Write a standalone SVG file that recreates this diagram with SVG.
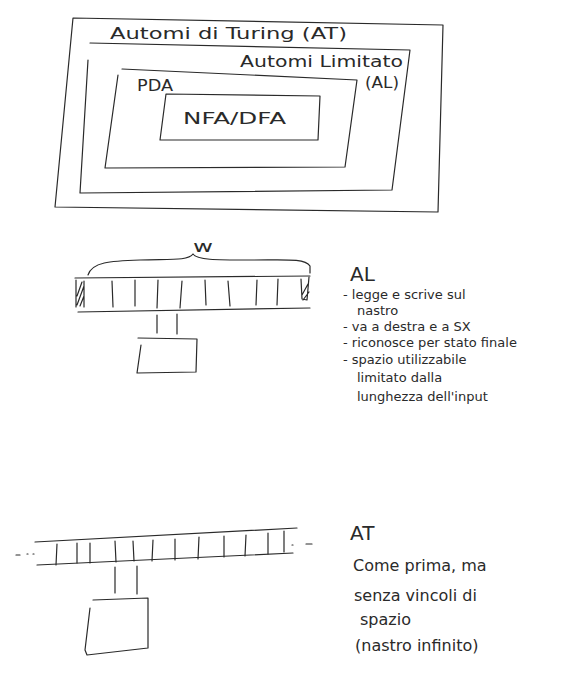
<svg xmlns="http://www.w3.org/2000/svg" width="588" height="697" viewBox="0 0 588 697">
<style>
.s{fill:none;stroke:#2a2a2a;stroke-width:1.2;stroke-linecap:round;stroke-linejoin:round}
.t{font-family:"DejaVu Sans","Liberation Sans",sans-serif;font-size:15px;fill:#2a2a2a}
.n{font-size:13px}
.m{font-size:16px}
.b{font-size:20px}
</style>
<rect width="588" height="697" fill="#ffffff"/>
<g id="at-box">
<path class="s" d="M73,18 L443,25 L438,212 L55,207 Z"/>
<text class="t" x="110" y="39" textLength="237" lengthAdjust="spacingAndGlyphs">Automi di Turing (AT)</text>
</g>
<g id="al-box">
<path class="s" d="M90,43 L410,50 L392,190 L80,193 L88,60"/>
<text class="t" x="240" y="67" textLength="163" lengthAdjust="spacingAndGlyphs">Automi Limitato</text>
<text class="t" x="365" y="88" textLength="34" lengthAdjust="spacingAndGlyphs">(AL)</text>
</g>
<g id="pda-box">
<path class="s" d="M122,69 L357,80 L345,167 L105,168 L118,75"/>
<text class="t" x="137" y="91" textLength="36" lengthAdjust="spacingAndGlyphs">PDA</text>
</g>
<g id="fa-box">
<path class="s" d="M166,94 L320,96 L318,140 L160,140 Z"/>
<text class="t" x="183" y="124" textLength="103" lengthAdjust="spacingAndGlyphs">NFA/DFA</text>
</g>
<g id="al-tape">
<path class="s" d="M75,278 L310,276"/>
<path class="s" d="M78,312 L310,308"/>
<path class="s" d="M76,280 L76,307 M84,281 L84,307 M77,296 L82,282 M77,305 L84,286 M80,306 L84,296"/>
<path class="s" d="M112,281 L113,307 M135,280 L135,306 M158,280 L157,308 M182,281 L180,308 M205,280 L206,305 M228,281 L230,306 M257,280 L256,305 M278,279 L277,305"/>
<path class="s" d="M301,279 L302,299 L307,300 M309,277 L307,300 M302,295 L308,284 M303,300 L309,292"/>
<path class="s" d="M88,275 C92,262 110,261 140,260 C170,259 188,261 193,254 C197,260 215,260 250,260 C285,260 305,258 310,266 L310,273"/>
<text class="t" x="193" y="252" textLength="20" lengthAdjust="spacingAndGlyphs">w</text>
</g>
<g id="al-head">
<path class="s" d="M138,338 L197,339 L196,372 L137,373 L141,345"/>
</g>
<g id="at-tape">
<path class="s" d="M35,542 L297,528"/>
<path class="s" d="M37,565 L293,553"/>
<path class="s" d="M57,544 L56,565 M77,543 L77,563 M90,543 L90,563 M115,541 L116,562 M133,541 L134,561 M153,540 L152,561 M175,539 L175,560 M199,537 L198,559 M224,536 L224,557 M246,535 L245,556 M268,533 L268,554 M284,531 L284,552"/>
<path class="s" d="M16,555 L20,555 M27,554 L28,554 M33,554 L34,554 M292,545 L293,545 M306,544 L312,544"/>
</g>
<g id="at-head">
<path class="s" d="M93,600 L148,598 L148,645 L148,648 L87,655 L85,650 L90,608"/>
</g>
<g id="connectors">
<path class="s" d="M157,315 L157,333 M177,314 L177,334"/>
<path class="s" d="M115,567 L115,593 M137,566 L137,594"/>
</g>
<g id="al-notes">
<text class="t b" x="350" y="281">AL</text>
<text class="t n" x="343" y="299">- legge e scrive sul</text>
<text class="t n" x="357" y="315">nastro</text>
<text class="t n" x="343" y="331">- va a destra e a SX</text>
<text class="t n" x="343" y="347">- riconosce per stato finale</text>
<text class="t n" x="343" y="364">- spazio utilizzabile</text>
<text class="t n" x="357" y="382">limitato dalla</text>
<text class="t n" x="357" y="401">lunghezza dell'input</text>
</g>
<g id="at-notes">
<text class="t b" x="350" y="540">AT</text>
<text class="t m" x="353" y="571">Come prima, ma</text>
<text class="t m" x="354" y="601">senza vincoli di</text>
<text class="t m" x="360" y="625">spazio</text>
<text class="t m" x="355" y="651">(nastro infinito)</text>
</g>
</svg>
